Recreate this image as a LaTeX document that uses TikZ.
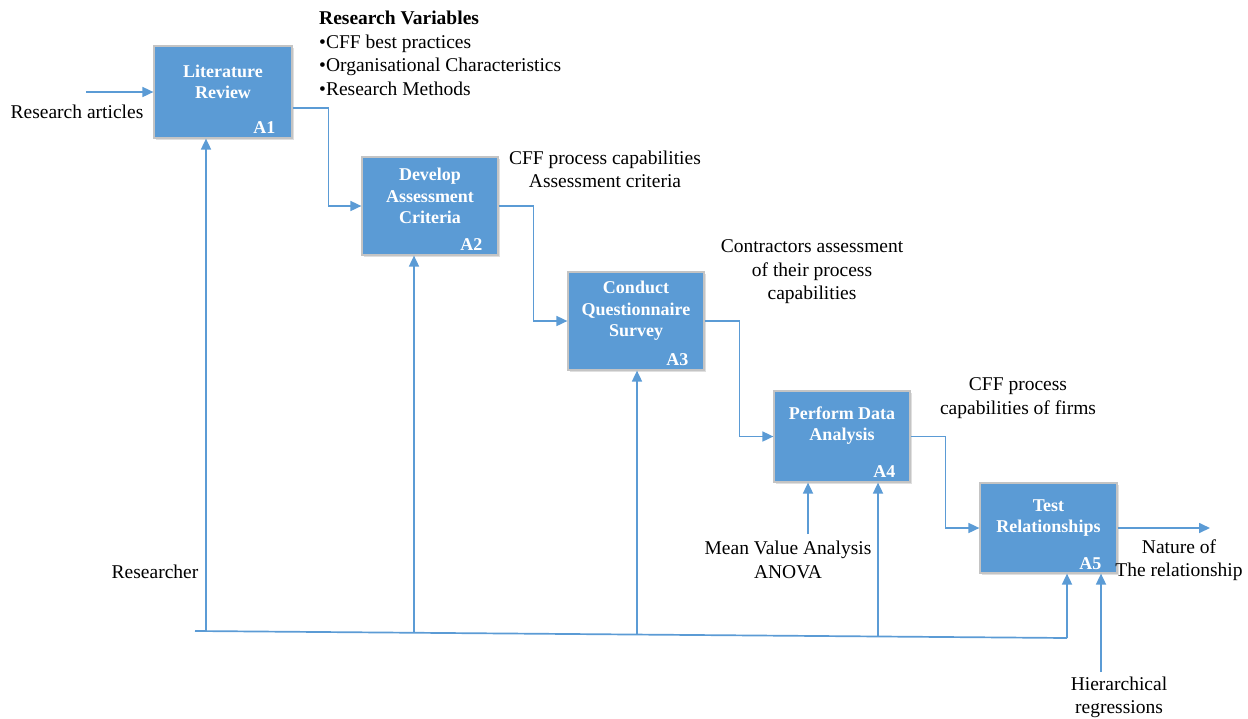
\documentclass[tikz,border=0pt]{standalone}
\usepackage{fontspec}
\setmainfont{Liberation Serif}
\usetikzlibrary{arrows.meta,shadows}
\definecolor{boxblue}{HTML}{5B9BD5}
\definecolor{boxedge}{HTML}{C4C4C4}
\begin{document}
\begin{tikzpicture}[x=1pt,y=-1pt,
 proc/.style={draw=boxedge, line width=1.2pt, fill=boxblue, drop shadow={opacity=0.25,shadow xshift=1.5pt,shadow yshift=-1.5pt}, inner sep=0pt},
 ttl/.style={text=white, font=\fontsize{18}{21.5}\selectfont\bfseries, align=center, inner sep=0pt},
 code/.style={text=white, font=\fontsize{18}{21.5}\selectfont\bfseries, anchor=south east, inner sep=0pt},
 lbl/.style={font=\fontsize{19.5}{23.5}\selectfont, align=center, inner sep=0pt},
 flow/.style={draw=boxblue, line width=1.7pt, -{Triangle[length=11pt,width=10pt]}},
 wire/.style={draw=boxblue, line width=1.7pt}]
\useasboundingbox (0,0) rectangle (1248,718);

% process boxes
\node[proc, minimum width=138pt, minimum height=92pt] (A1) at (223,92) {};
\node[proc, minimum width=136pt, minimum height=98pt] (A2) at (430,206) {};
\node[proc, minimum width=136pt, minimum height=98pt] (A3) at (636,321) {};
\node[proc, minimum width=136pt, minimum height=91pt] (A4) at (842,436.5) {};
\node[proc, minimum width=137pt, minimum height=90pt] (A5) at (1048.5,528) {};

% titles
\node[ttl] (t1) at (223,82) {Literature\\Review};
\node[ttl] (t2) at (430,196) {Develop\\Assessment\\Criteria};
\node[ttl] (t3) at (636,311) {Conduct\\Questionnaire\\Survey};
\node[ttl] (t4) at (842,425.5) {Perform Data\\Analysis};
\node[ttl] (t5) at (1048.5,518) {Test\\Relationships};

% codes
\node[code] (c1) at ([xshift=-17pt,yshift=4.5pt]A1.south east) {A1};
\node[code] (c2) at ([xshift=-16pt,yshift=4.5pt]A2.south east) {A2};
\node[code] (c3) at ([xshift=-16pt,yshift=4.5pt]A3.south east) {A3};
\node[code] (c4) at ([xshift=-15pt,yshift=4.5pt]A4.south east) {A4};
\node[code] (c5) at ([xshift=-16pt,yshift=4pt]A5.south east) {A5};

% flow between boxes
\coordinate (ra) at (86,92);
\draw[flow] (ra) -- (A1.west);
\draw[flow] ([yshift=-16pt]A1.east) -- ++(36,0) |- (A2.west);
\draw[flow] (A2.east) -- ++(35,0) |- (A3.west);
\draw[flow] (A3.east) -- ++(35,0) |- (A4.west);
\draw[flow] (A4.east) -- ++(35,0) |- (A5.west);
\coordinate (out) at (1210,528);
\draw[flow] (A5.east) -- (out);

% researcher bus
\coordinate (bL) at (195,631);
\coordinate (bR) at (1067,638);
\coordinate (r1) at (206,631.1);
\coordinate (r2) at (414,632.8);
\coordinate (r3) at (637,634.5);
\coordinate (r4) at (878,636.5);
\draw[wire] (bL) -- (bR);
\draw[flow] (r1) -- (r1 |- A1.south);
\draw[flow] (r2) -- (r2 |- A2.south);
\draw[flow] (r3) -- (r3 |- A3.south);
\draw[flow] (r4) -- (r4 |- A4.south);
\draw[flow] (bR) -- (bR |- A5.south);

% mechanisms
\coordinate (mv) at (808,534);
\draw[flow] (mv) -- (mv |- A4.south);
\coordinate (hr) at (1101,672);
\draw[flow] (hr) -- (hr |- A5.south);

% labels
\node[lbl] (l-ra) at (77,112) {Research articles};
\node[lbl, align=left, anchor=west] (l-rv) at (319,53.5) {\textbf{Research Variables}\\•CFF best practices\\•Organisational Characteristics\\•Research Methods};
\node[lbl] (l-o2) at (605,169.5) {CFF process capabilities\\Assessment criteria};
\node[lbl] (l-o3) at (812,272) {Contractors assessment\\of their process\\capabilities};
\node[lbl] (l-o4) at (1018,398) {CFF process\\capabilities of firms};
\node[lbl] (l-mv) at (788,560) {Mean Value Analysis\\ANOVA};
\node[lbl] (l-re) at (155,572) {Researcher};
\node[lbl] (l-o5) at (1179,560) {Nature of\\The relationship};
\node[lbl] (l-hr) at (1119,697.5) {Hierarchical\\regressions};
\end{tikzpicture}
\end{document}
